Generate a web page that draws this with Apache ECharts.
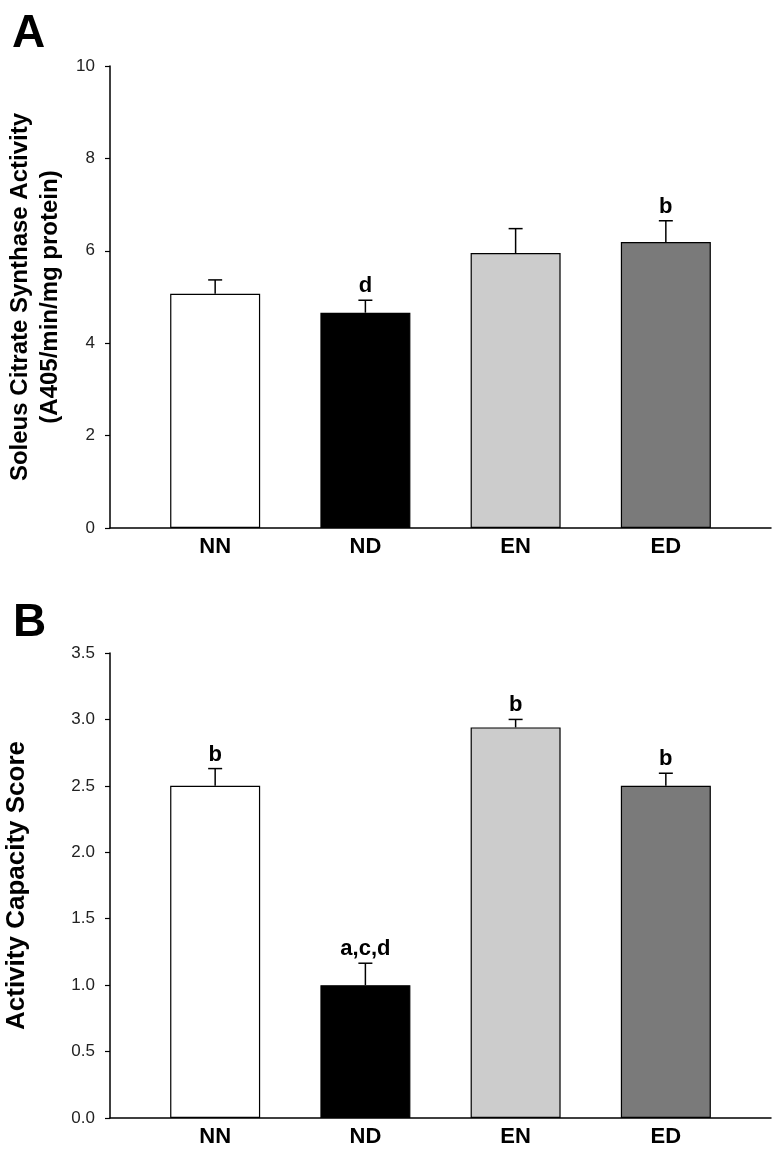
<!DOCTYPE html>
<html>
<head>
<meta charset="utf-8">
<script src="https://cdn.jsdelivr.net/npm/echarts@6/dist/echarts.min.js"></script>
<style>
html,body{margin:0;padding:0;background:#fff;}
#chart{width:773px;height:1157px;}
</style>
</head>
<body>
<div id="chart"></div>
<script>
// ---- data ----
const categories = ['NN', 'ND', 'EN', 'ED'];
const barColors = ['#ffffff', '#000000', '#cccccc', '#7a7a7a'];

const csMean = [5.07, 4.66, 5.95, 6.19];
const csErr = [0.30, 0.27, 0.53, 0.46];
const csSig = ['', 'd', '', 'b'];
const csTicks = [0, 2, 4, 6, 8, 10];

const acMean = [2.50, 1.00, 2.94, 2.50];
const acErr = [0.13, 0.165, 0.06, 0.095];
const acSig = ['b', 'a,c,d', 'b', 'b'];
const acTicks = [0, 0.5, 1.0, 1.5, 2.0, 2.5, 3.0, 3.5];

const FONT = 'Liberation Sans, Arial, sans-serif';

const chart = echarts.init(document.getElementById('chart'));

function barData(means) {
  return means.map((v, i) => ({
    value: [i, v],
    itemStyle: { color: barColors[i], borderColor: '#000', borderWidth: 1.2 }
  }));
}
function errData(means, errs) {
  return means.map((v, i) => [i, v, errs[i]]);
}
function errRender(sig) {
  return function (params, api) {
    const x = api.value(0), y = api.value(1), e = api.value(2);
    const base = api.coord([x, y]);
    const top = api.coord([x, y + e]);
    const st = { stroke: '#000', lineWidth: 1.5 };
    const children = [
      { type: 'line', shape: { x1: base[0], y1: base[1], x2: top[0], y2: top[1] }, style: st },
      { type: 'line', shape: { x1: top[0] - 7, y1: top[1], x2: top[0] + 7, y2: top[1] }, style: st }
    ];
    const lab = sig[params.dataIndex];
    if (lab) {
      children.push({
        type: 'text', x: top[0], y: top[1] - 3,
        style: { text: lab, align: 'center', verticalAlign: 'bottom', fontSize: 22, fontWeight: 'bold', fontFamily: FONT, fill: '#000' }
      });
    }
    return { type: 'group', children };
  };
}

function xAxisCfg(gridIndex) {
  return {
    type: 'value', gridIndex, min: -0.7, max: 3.7,
    axisLine: { show: true, onZero: false, lineStyle: { color: '#000', width: 1.5 } },
    axisTick: { show: false },
    splitLine: { show: false },
    axisLabel: {
      customValues: [0, 1, 2, 3],
      formatter: v => categories[Math.round(v)],
      fontSize: 22, fontWeight: 'bold', fontFamily: FONT, color: '#000', margin: 8
    }
  };
}
function yAxisCfg(gridIndex, max, interval, name, nameGap, nameSize, fmt) {
  return {
    type: 'value', gridIndex, min: 0, max, interval,
    name, nameLocation: 'middle', nameRotate: 90, nameGap,
    nameTextStyle: { fontSize: nameSize, fontWeight: 'bold', fontFamily: FONT, color: '#000', lineHeight: 30 },
    axisLine: { show: true, onZero: false, lineStyle: { color: '#000', width: 1.5 } },
    axisTick: { show: true, inside: false, length: 5, lineStyle: { color: '#000', width: 1.2 } },
    splitLine: { show: false },
    axisLabel: { fontSize: 17, fontFamily: FONT, color: '#222', margin: 15, formatter: fmt }
  };
}

chart.setOption({
  backgroundColor: '#fff',
  animation: false,
  title: [
    { text: 'A', left: 7, top: 6, textStyle: { fontSize: 46, fontWeight: 'bold', fontFamily: FONT, color: '#000' } },
    { text: 'B', left: 8, top: 595, textStyle: { fontSize: 46, fontWeight: 'bold', fontFamily: FONT, color: '#000' } }
  ],
  grid: [
    { left: 110, width: 661, top: 66, height: 462, outerBoundsMode: 'none' },
    { left: 110, width: 661, top: 653, height: 465, outerBoundsMode: 'none' }
  ],
  xAxis: [xAxisCfg(0), xAxisCfg(1)],
  yAxis: [
    yAxisCfg(0, 10, 2, 'Soleus Citrate Synthase Activity\n(A405/min/mg protein)', 42, 24, v => String(v)),
    yAxisCfg(1, 3.5, 0.5, 'Activity Capacity Score', 78, 26, v => v.toFixed(1))
  ],
  series: [
    { type: 'bar', xAxisIndex: 0, yAxisIndex: 0, barWidth: 90, data: barData(csMean) },
    { type: 'custom', xAxisIndex: 0, yAxisIndex: 0, renderItem: errRender(csSig), data: errData(csMean, csErr), z: 5 },
    { type: 'bar', xAxisIndex: 1, yAxisIndex: 1, barWidth: 90, data: barData(acMean) },
    { type: 'custom', xAxisIndex: 1, yAxisIndex: 1, renderItem: errRender(acSig), data: errData(acMean, acErr), z: 5 }
  ]
});
</script>
</body>
</html>
